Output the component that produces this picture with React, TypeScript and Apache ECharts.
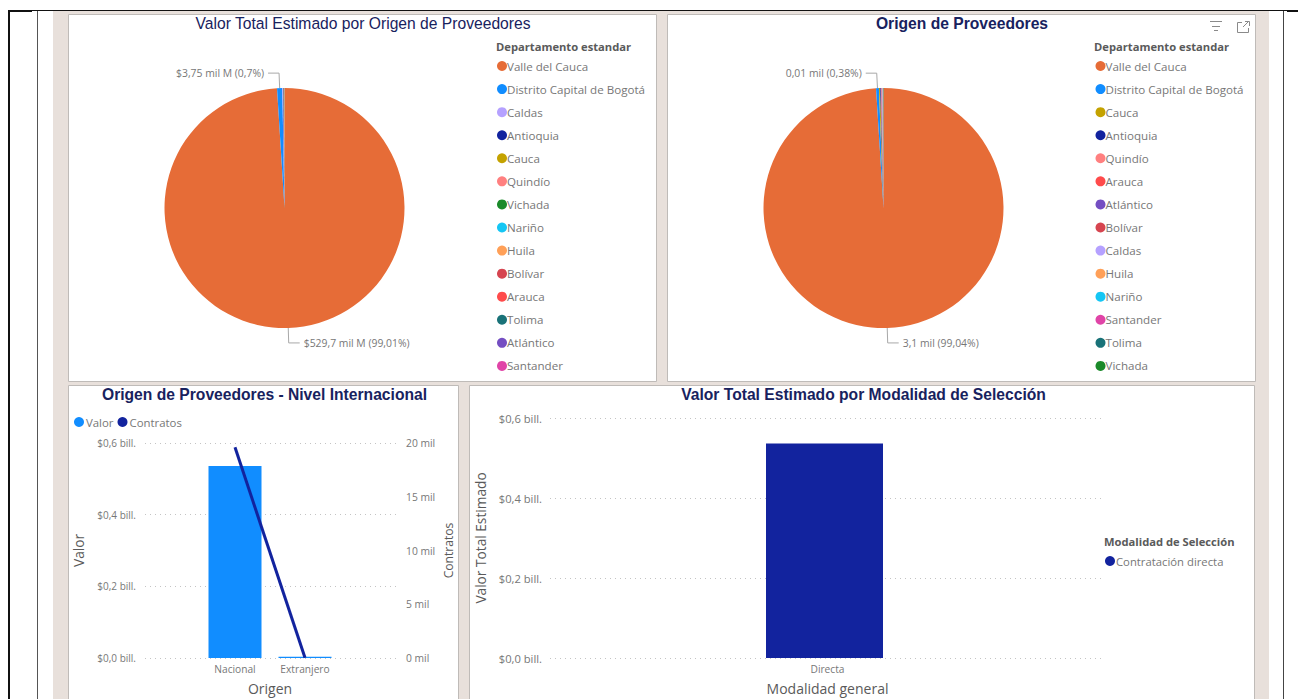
import React, { useEffect, useRef } from "react";
import * as echarts from "echarts";

const deptColors: Record<string, string> = {
  "Valle del Cauca": "#E66C37",
  "Distrito Capital de Bogotá": "#118DFF",
  Caldas: "#B5A1FF",
  Antioquia: "#12239E",
  Cauca: "#C4A200",
  "Quindío": "#FF8080",
  Vichada: "#1B8A2A",
  "Nariño": "#15C6F4",
  Huila: "#FFA058",
  "Bolívar": "#D64550",
  Arauca: "#FF4B4B",
  Tolima: "#197278",
  "Atlántico": "#744EC2",
  Santander: "#E044A7",
};

const valueNames = ["Valle del Cauca", "Distrito Capital de Bogotá", "Caldas", "Antioquia", "Cauca", "Quindío", "Vichada", "Nariño", "Huila", "Bolívar", "Arauca", "Tolima", "Atlántico", "Santander"];
const valueAmounts = [529.7, 3.75, 0.6, 0.4, 0.22, 0.12, 0.07, 0.05, 0.04, 0.02, 0.015, 0.01, 0.01, 0.005];
const valueLabels: Record<string, string> = {
  "Valle del Cauca": "$529,7 mil M (99,01%)",
  "Distrito Capital de Bogotá": "$3,75 mil M (0,7%)",
};

const originNames = ["Valle del Cauca", "Distrito Capital de Bogotá", "Cauca", "Antioquia", "Quindío", "Arauca", "Atlántico", "Bolívar", "Caldas", "Huila", "Nariño", "Santander", "Tolima", "Vichada"];
const originCounts = [3100, 12, 5, 3, 2, 1, 1, 1, 1, 1, 1, 1, 1, 1];
const originLabels: Record<string, string> = {
  "Valle del Cauca": "3,1 mil (99,04%)",
  "Distrito Capital de Bogotá": "0,01 mil (0,38%)",
};

const origenCategories = ["Nacional", "Extranjero"];
const origenValor = [0.536, 0.00375];
const origenContratos = [19.6, 0.03];

const modalidadCategories = ["Directa"];
const modalidadValor = [0.536];

const FONT = "'Open Sans', sans-serif";
const TITLE_FONT = "'Liberation Sans', Arial, sans-serif";
const GREY = "#777777";
const BG = "#E8E0DB";
const BORDER = "#BFBBB8";

const billFmt = (v: number) => `$${v.toFixed(1).replace(".", ",")} bill.`;
const milFmt = (v: number) => `${v} mil`;

const pieData = (names: string[], vals: number[], labels: Record<string, string>) =>
  names.map((name, i) => {
    const lab = labels[name];
    return {
      name,
      value: vals[i],
      itemStyle: { color: deptColors[name] },
      label: lab ? { show: true, formatter: lab } : { show: false },
      labelLine: { show: !!lab },
    };
  });

const pieSeries = (name: string, cx: number, data: any[]) => ({
  type: "pie",
  name,
  center: [cx, 208],
  radius: [0, 120],
  startAngle: 90,
  clockwise: true,
  avoidLabelOverlap: false,
  silent: true,
  animation: false,
  emphasis: { disabled: true },
  label: { position: "outside", fontFamily: FONT, fontSize: 10.4, color: GREY, distanceToLabelLine: 4 },
  labelLine: { length: 15, length2: 11, smooth: false, lineStyle: { color: "#A8A8A8", width: 1 } },
  data,
});

const legendText = { fontFamily: FONT, fontSize: 11.6, color: GREY, height: 14, lineHeight: 14, padding: [0, 0, 0, -5] };

const pieLegend = (left: number, data: string[]) => ({
  orient: "vertical",
  left,
  top: 59,
  padding: 0,
  data,
  icon: "circle",
  itemWidth: 10,
  itemHeight: 10,
  itemGap: 9.07,
  selectedMode: false,
  textStyle: legendText,
});

const panelRect = (x: number, y: number, w: number, h: number) => ({
  type: "rect",
  z: -5,
  silent: true,
  shape: { x: x + 0.5, y: y + 0.5, width: w, height: h },
  style: { fill: "#FFFFFF", stroke: BORDER, lineWidth: 1 },
});

const blackLine = (x1: number, y1: number, x2: number, y2: number, w: number, color = "#111111") => ({
  type: "line",
  z: -4,
  silent: true,
  shape: { x1, y1, x2, y2 },
  style: { stroke: color, lineWidth: w },
});

const iconLine = (points: number[][]) => ({
  type: "polyline",
  z: 5,
  silent: true,
  shape: { points },
  style: { stroke: "#8A8A8A", lineWidth: 1, fill: "none" },
});

const heading = (text: string, left: number, top: number) => ({
  text,
  left,
  top,
  padding: 0,
  textStyle: { fontFamily: FONT, fontSize: 11.2, fontWeight: "bold", color: "#5A5A5A" },
});

const chartTitle = (text: string, cx: number, top: number, weight: string, size: number) => ({
  text,
  left: cx,
  top,
  padding: 0,
  textAlign: "center",
  textStyle: { fontFamily: TITLE_FONT, fontSize: size, fontWeight: weight, color: "#18225E" },
});

const dotted = { show: true, lineStyle: { type: [1, 4], color: "#C4C4C4", width: 1 } };

export default function App() {
  const ref = useRef<HTMLDivElement>(null);
  useEffect(() => {
    document.body.style.margin = "0";
    document.body.style.overflow = "hidden";
    const chart = echarts.init(ref.current!, undefined, { renderer: "svg" });
    chart.setOption({
      animation: false,
      backgroundColor: "#FFFFFF",
      tooltip: { show: false },
      title: [
        chartTitle("Valor Total Estimado por Origen de Proveedores", 363, 15, "normal", 15.65),
        chartTitle("Origen de Proveedores", 962, 15, "bold", 15.65),
        chartTitle("Origen de Proveedores - Nivel Internacional", 264.5, 386.5, "bold", 15.65),
        chartTitle("Valor Total Estimado por Modalidad de Selección", 863.5, 386.5, "bold", 15.65),
        heading("Departamento estandar", 496, 41),
        heading("Departamento estandar", 1094, 41),
        heading("Modalidad de Selección", 1104, 536),
      ],
      legend: [
        pieLegend(497, valueNames),
        pieLegend(1095.5, originNames),
        {
          orient: "horizontal",
          left: 74,
          top: 415,
          padding: 0,
          data: ["Valor", "Contratos"],
          icon: "circle",
          itemWidth: 10,
          itemHeight: 10,
          itemGap: 4,
          selectedMode: false,
          textStyle: { ...legendText, fontSize: 11.4, padding: [0, 0, 0, -3] },
        },
        {
          orient: "horizontal",
          left: 1105,
          top: 554,
          padding: 0,
          data: ["Contratación directa"],
          icon: "circle",
          itemWidth: 10,
          itemHeight: 10,
          selectedMode: false,
          textStyle: { ...legendText, fontSize: 11.3, padding: [0, 0, 0, -4] },
        },
      ],
      grid: [
        { left: 145, width: 252, top: 443, height: 215 },
        { left: 200, width: 140, top: 443, height: 215 },
        { left: 550, width: 555, top: 418, height: 240 },
        { left: 548, width: 553, top: 418, height: 240 },
      ],
      xAxis: [
        { gridIndex: 0, type: "value", show: false, min: 0, max: 1 },
        {
          gridIndex: 1,
          type: "category",
          data: origenCategories,
          name: "Origen",
          nameLocation: "middle",
          nameGap: 23,
          nameTextStyle: { fontFamily: FONT, fontSize: 14, color: "#5A5A5A" },
          axisLine: { show: false },
          axisTick: { show: false },
          axisLabel: { fontFamily: FONT, fontSize: 10.2, color: GREY, margin: 6 },
        },
        {
          gridIndex: 2,
          type: "category",
          data: modalidadCategories,
          name: "Modalidad general",
          nameLocation: "middle",
          nameGap: 23,
          nameTextStyle: { fontFamily: FONT, fontSize: 14, color: "#5A5A5A" },
          axisLine: { show: false },
          axisTick: { show: false },
          axisLabel: { fontFamily: FONT, fontSize: 10.2, color: GREY, margin: 6 },
        },
        { gridIndex: 3, type: "category", show: false, data: modalidadCategories },
      ],
      yAxis: [
        {
          gridIndex: 0,
          type: "value",
          position: "left",
          min: 0,
          max: 0.6,
          interval: 0.2,
          name: "Valor",
          nameLocation: "middle",
          nameGap: 60,
          nameTextStyle: { fontFamily: FONT, fontSize: 13.7, color: "#5A5A5A" },
          axisLine: { show: false },
          axisTick: { show: false },
          splitLine: dotted,
          axisLabel: { formatter: billFmt, fontFamily: FONT, fontSize: 10, color: GREY, margin: 9 },
        },
        {
          gridIndex: 0,
          type: "value",
          position: "right",
          min: 0,
          max: 20,
          interval: 5,
          name: "Contratos",
          nameLocation: "middle",
          nameGap: 45,
          nameRotate: 90,
          nameTextStyle: { fontFamily: FONT, fontSize: 12.1, color: "#5A5A5A" },
          axisLine: { show: false },
          axisTick: { show: false },
          splitLine: { show: false },
          axisLabel: { formatter: milFmt, fontFamily: FONT, fontSize: 10.3, color: GREY, margin: 9 },
        },
        { gridIndex: 1, type: "value", show: false, min: 0, max: 0.6, splitLine: { show: false } },
        { gridIndex: 1, type: "value", show: false, min: 0, max: 20, splitLine: { show: false } },
        {
          gridIndex: 2,
          type: "value",
          min: 0,
          max: 0.6,
          interval: 0.2,
          name: "Valor Total Estimado",
          nameLocation: "middle",
          nameGap: 63,
          nameTextStyle: { fontFamily: FONT, fontSize: 13.7, color: "#5A5A5A" },
          axisLine: { show: false },
          axisTick: { show: false },
          splitLine: dotted,
          axisLabel: { formatter: billFmt, fontFamily: FONT, fontSize: 11.2, color: GREY, margin: 8 },
        },
        { gridIndex: 3, type: "value", show: false, min: 0, max: 0.6, splitLine: { show: false } },
      ],
      series: [
        pieSeries("Valor Total", 284.5, pieData(valueNames, valueAmounts, valueLabels)),
        pieSeries("Origen", 883.5, pieData(originNames, originCounts, originLabels)),
        {
          type: "bar",
          name: "Valor",
          xAxisIndex: 1,
          yAxisIndex: 2,
          barWidth: 53,
          silent: true,
          itemStyle: { color: "#118DFF" },
          data: origenValor,
        },
        {
          type: "line",
          name: "Contratos",
          xAxisIndex: 1,
          yAxisIndex: 3,
          showSymbol: false,
          symbol: "none",
          silent: true,
          itemStyle: { color: "#12239E" },
          lineStyle: { color: "#12239E", width: 3 },
          data: origenContratos,
        },
        {
          type: "bar",
          name: "Contratación directa",
          xAxisIndex: 3,
          yAxisIndex: 5,
          barWidth: 117,
          silent: true,
          itemStyle: { color: "#12239E" },
          data: modalidadValor,
        },
      ],
      graphic: [
        { type: "rect", z: -6, silent: true, shape: { x: 53, y: 11, width: 1216, height: 688 }, style: { fill: BG } },
        panelRect(68, 14, 588, 367),
        panelRect(667, 14, 588, 367),
        panelRect(68, 385, 390, 320),
        panelRect(469, 385, 785, 320),
        blackLine(8, 10.5, 1287, 10.5, 1),
        blackLine(8, 11, 32, 11, 2),
        blackLine(1287, 11, 1298, 11, 2),
        blackLine(9, 10, 9, 699, 2),
        blackLine(37.5, 11, 37.5, 699, 1, "#555555"),
        blackLine(1283.5, 11, 1283.5, 699, 1, "#444444"),
        iconLine([[1210, 21.5], [1222, 21.5]]),
        iconLine([[1212, 26.5], [1220, 26.5]]),
        iconLine([[1214, 30.5], [1218, 30.5]]),
        iconLine([[1242, 22.5], [1237.5, 22.5], [1237.5, 32.5], [1248.5, 32.5], [1248.5, 28]]),
        iconLine([[1243, 27], [1249, 21]]),
        iconLine([[1245, 21.5], [1249.5, 21.5], [1249.5, 26]]),
      ],
    });
    return () => chart.dispose();
  }, []);
  return <div ref={ref} style={{ width: 1298, height: 699 }} />;
}
